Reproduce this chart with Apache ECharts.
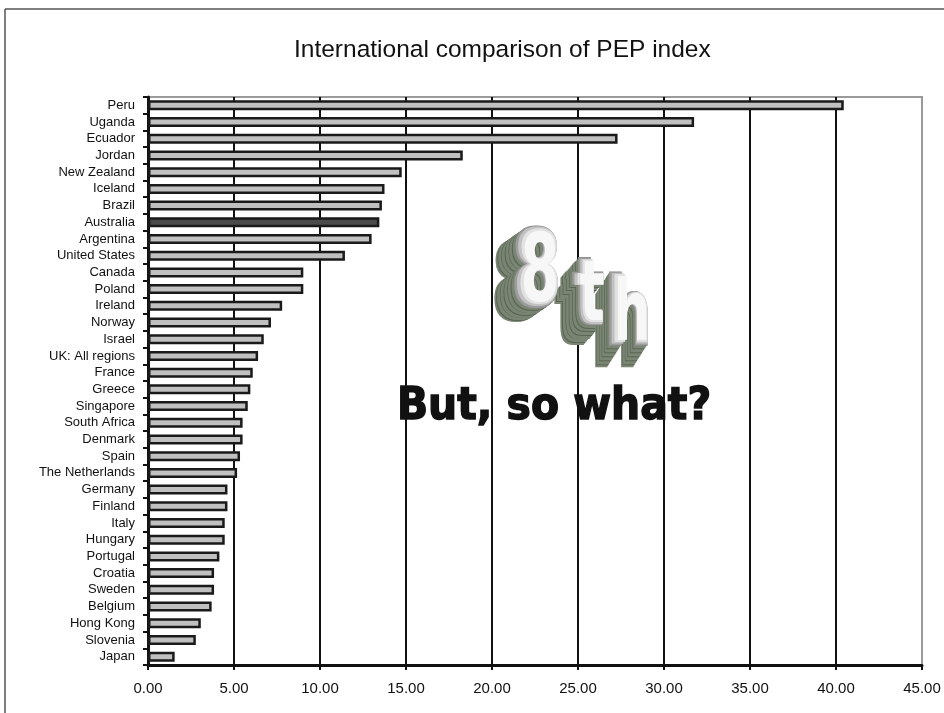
<!DOCTYPE html>
<html><head><meta charset="utf-8">
<script src="https://cdn.jsdelivr.net/npm/echarts@6/dist/echarts.min.js"></script>
<style>html,body{margin:0;padding:0;background:#fff}#c{width:944px;height:713px}</style>
</head><body><div id="c"></div>
<script>
const categories = ['Peru','Uganda','Ecuador','Jordan','New Zealand','Iceland','Brazil','Australia','Argentina','United States','Canada','Poland','Ireland','Norway','Israel','UK: All regions','France','Greece','Singapore','South Africa','Denmark','Spain','The Netherlands','Germany','Finland','Italy','Hungary','Portugal','Croatia','Sweden','Belgium','Hong Kong','Slovenia','Japan'];
const pepIndex = [40.45,31.75,27.3,18.3,14.75,13.75,13.6,13.45,13.0,11.45,9.03,9.03,7.8,7.15,6.73,6.4,6.09,5.95,5.8,5.5,5.5,5.35,5.18,4.62,4.62,4.46,4.46,4.15,3.84,3.84,3.7,3.07,2.78,1.55];
const highlighted = 'Australia';
const xMin = 0, xMax = 45, xStep = 5;
const titleText = 'International comparison of PEP index';
const bigLabel = '8th';
const caption = 'But, so what?';

const FONT = '"Liberation Sans", Arial, sans-serif';
const chart = echarts.init(document.getElementById('c'));

function extruded(ch, cx, cy, size, sx, dx, dy) {
  const els = [];
  const N = 22;
  const base = { text: ch, fontSize: size, fontWeight: 'bold', fontFamily: '"DejaVu Sans"', align: 'center', verticalAlign: 'middle' };
  for (let k = N; k >= 1; k--) {
    const t = k / N;
    els.push({
      type: 'text', x: cx + dx * t, y: cy + dy * t, scaleX: sx, z: 100,
      style: Object.assign({}, base, { fill: (k % 4 === 0) ? '#5b6656' : '#7a8573' })
    });
  }
  els.push({ type: 'text', x: cx, y: cy, scaleX: sx, z: 101,
    style: Object.assign({}, base, { fill: '#9c9c9c', stroke: '#858585', lineWidth: 0.8 }) });
  els.push({ type: 'text', x: cx + 1.5, y: cy - 0.5, scaleX: sx * 0.95, scaleY: 0.97, z: 102,
    style: Object.assign({}, base, { fill: '#c2c2c2' }) });
  els.push({ type: 'text', x: cx + 3, y: cy - 1, scaleX: sx * 0.86, scaleY: 0.93, z: 103,
    style: Object.assign({}, base, { fill: '#e2e2e2' }) });
  els.push({ type: 'text', x: cx + 4, y: cy - 1.5, scaleX: sx * 0.74, scaleY: 0.88, z: 104,
    style: Object.assign({}, base, { fill: '#f7f7f7' }) });
  return els;
}

const chars = bigLabel.split('');
const graphics = [
  { type: 'line', shape: { x1: 5, y1: 9, x2: 944, y2: 9 }, style: { stroke: '#555', lineWidth: 1.5 }, z: 1 },
  { type: 'line', shape: { x1: 5, y1: 9, x2: 5, y2: 713 }, style: { stroke: '#555', lineWidth: 1.5 }, z: 1 },
  ...extruded(chars[0], 536, 278, 108, 0.7, -20, 14),
  ...extruded(chars[1], 588, 300, 96, 0.72, -18, 20),
  ...extruded(chars[2], 628, 320, 96, 0.72, -14, 22),
  { type: 'text', x: 554, y: 408, scaleX: 0.93, z: 110,
    style: { text: caption, fontSize: 44, fontWeight: 'bold', fontFamily: '"DejaVu Sans"', fill: '#111', stroke: '#111', lineWidth: 1.5, align: 'center', verticalAlign: 'middle' } }
];

chart.setOption({
  animation: false,
  backgroundColor: '#fff',
  title: { text: titleText, left: 289, top: 33, textStyle: { fontSize: 24.5, fontWeight: 'normal', color: '#111', fontFamily: FONT } },
  grid: { left: 148, right: 22, top: 97, bottom: 48, show: true, borderColor: '#9a9a9a', borderWidth: 2, backgroundColor: 'transparent' },
  xAxis: {
    type: 'value', min: xMin, max: xMax, interval: xStep,
    axisLine: { show: true, lineStyle: { color: '#111', width: 3 } },
    axisTick: { show: true, length: 5, lineStyle: { color: '#111', width: 2 } },
    axisLabel: { formatter: v => v.toFixed(2), fontSize: 15, color: '#111', margin: 16, fontFamily: FONT },
    splitLine: { show: true, showMaxLine: false, lineStyle: { color: '#111', width: 2 } }
  },
  yAxis: {
    type: 'category', inverse: true, data: categories,
    axisLine: { show: true, lineStyle: { color: '#111', width: 3 } },
    axisTick: { show: true, length: 5, lineStyle: { color: '#111', width: 2 } },
    axisLabel: { interval: 0, fontSize: 13, color: '#111', margin: 13, fontFamily: FONT },
    splitLine: { show: false }
  },
  series: [{
    type: 'bar', barWidth: 10,
    itemStyle: { color: '#c0c0c0', borderColor: '#1a1a1a', borderWidth: 2.5 },
    data: pepIndex.map((v, i) => categories[i] === highlighted
      ? { value: v, itemStyle: { color: '#4a4a4a' } } : v)
  }],
  graphic: graphics
});
</script></body></html>
